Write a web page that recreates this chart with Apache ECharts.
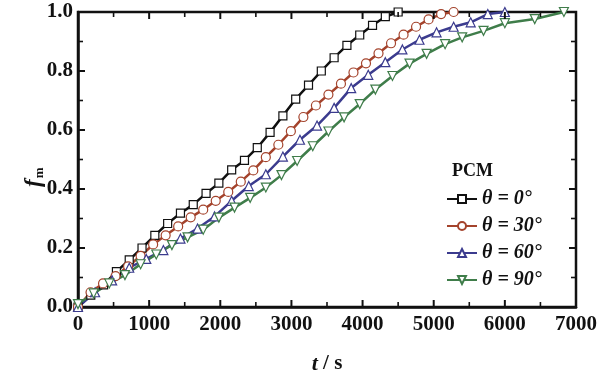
<!DOCTYPE html>
<html>
<head>
<meta charset="utf-8">
<script src="https://cdn.jsdelivr.net/npm/echarts@6/dist/echarts.min.js"></script>
<style>html,body{margin:0;padding:0;background:#fff}#c{width:600px;height:381px}</style>
</head>
<body>
<div id="c"></div>
<script>
var seriesNames = ['θ = 0°', 'θ = 30°', 'θ = 60°', 'θ = 90°'];
var t0 = [0,180,360,540,720,900,1080,1260,1440,1620,1800,1980,2160,2340,2520,2700,2880,3060,3240,3420,3600,3780,3960,4140,4320,4500];
var f0 = [0,0.04,0.075,0.12,0.16,0.20,0.243,0.283,0.318,0.347,0.385,0.42,0.465,0.497,0.54,0.592,0.648,0.705,0.752,0.8,0.845,0.887,0.922,0.955,0.984,1.0];
var t30 = [0,176,352,528,704,880,1056,1232,1408,1584,1760,1936,2112,2288,2464,2640,2816,2992,3168,3344,3520,3696,3872,4048,4224,4400,4576,4752,4928,5104,5280];
var f30 = [0,0.05,0.08,0.105,0.138,0.173,0.212,0.243,0.273,0.304,0.33,0.36,0.39,0.425,0.463,0.508,0.55,0.596,0.644,0.683,0.72,0.757,0.795,0.826,0.86,0.894,0.923,0.95,0.975,0.993,1.0];
var t60 = [0,240,480,720,960,1200,1440,1680,1920,2160,2400,2640,2880,3120,3360,3600,3840,4080,4320,4560,4800,5040,5280,5520,5760,6000];
var f60 = [0,0.05,0.09,0.133,0.163,0.193,0.232,0.266,0.307,0.36,0.41,0.45,0.51,0.567,0.615,0.675,0.742,0.787,0.83,0.873,0.906,0.931,0.95,0.965,0.993,1.0];
var t90 = [0,220,440,660,880,1100,1320,1540,1760,1980,2200,2420,2640,2860,3080,3300,3520,3740,3960,4180,4420,4660,4900,5160,5400,5700,6000,6420,6830];
var f90 = [0.01,0.046,0.08,0.108,0.145,0.178,0.21,0.236,0.262,0.303,0.337,0.37,0.405,0.447,0.495,0.545,0.595,0.643,0.688,0.737,0.783,0.825,0.858,0.891,0.914,0.936,0.962,0.976,1.0];
var xMajorTicks = [1000,2000,3000,4000,5000,6000];
var xMinorTicks = [500,1500,2500,3500,4500,5500,6500];
var yMajorTicks = [0.2,0.4,0.6,0.8];
var yMinorTicks = [0.1,0.3,0.5,0.7,0.9];
var colors = ['#111111', '#a4432c', '#3b3b8e', '#3f7d4a'];
var symbols = ['rect', 'circle', 'triangle', 'path://M0,0 L10,0 L5,9 Z'];
var ts = [t0, t30, t60, t90];
var fs = [f0, f30, f60, f90];

var FONT = 'Liberation Serif';
var chart = echarts.init(document.getElementById('c'));

var series = seriesNames.map(function (name, k) {
  return {
    name: name,
    type: 'line',
    xAxisIndex: 0, yAxisIndex: 0,
    data: ts[k].map(function (x, i) { return [x, fs[k][i]]; }),
    symbol: symbols[k],
    symbolSize: k === 0 ? 8 : 9,
    showAllSymbol: true,
    lineStyle: {color: colors[k], width: 2.5},
    itemStyle: {color: '#fff', borderColor: colors[k], borderWidth: 1.2}
  };
});

// tick marks as small filled rects, positioned through the axes' own scales
var xTickData = xMajorTicks.map(function (v) { return [v, 1]; })
  .concat(xMinorTicks.map(function (v) { return [v, 0]; }));
var yTickData = yMajorTicks.map(function (v) { return [v, 1]; })
  .concat(yMinorTicks.map(function (v) { return [v, 0]; }));
series.push({
  type: 'custom', name: 'xticks', silent: true, clip: false, z: 20,
  encode: {x: 0},
  data: xTickData,
  renderItem: function (params, api) {
    var v = api.value(0), major = api.value(1) === 1;
    var len = major ? 7 : 5, w = major ? 2 : 1.6;
    var b = api.coord([v, 0]), t = api.coord([v, 1]);
    return {type: 'group', children: [
      {type: 'rect', shape: {x: b[0] - w / 2, y: b[1] - len, width: w, height: len}, style: {fill: '#111'}},
      {type: 'rect', shape: {x: t[0] - w / 2, y: t[1], width: w, height: len}, style: {fill: '#111'}}
    ]};
  }
});
series.push({
  type: 'custom', name: 'yticks', silent: true, clip: false, z: 20,
  encode: {y: 0},
  data: yTickData,
  renderItem: function (params, api) {
    var v = api.value(0), major = api.value(1) === 1;
    var len = major ? 7 : 5, w = major ? 2 : 1.6;
    var l = api.coord([0, v]), r = api.coord([7000, v]);
    return {type: 'group', children: [
      {type: 'rect', shape: {x: l[0], y: l[1] - w / 2, width: len, height: w}, style: {fill: '#111'}},
      {type: 'rect', shape: {x: r[0] - len, y: r[1] - w / 2, width: len, height: w}, style: {fill: '#111'}}
    ]};
  }
});

var labelStyle = {fontFamily: FONT, fontWeight: 'bold', fontSize: 21, color: '#111'};

var option = {
  animation: false,
  grid: {left: 78, right: 23, top: 12, bottom: 74,
         show: true, borderColor: '#111', borderWidth: 2.5, backgroundColor: 'rgba(0,0,0,0)'},
  xAxis: {
    type: 'value', min: 0, max: 7000, interval: 1000,
    axisLine: {show: true, lineStyle: {color: '#111', width: 2.5}},
    axisTick: {show: false},
    splitLine: {show: false},
    axisLabel: Object.assign({margin: 7, formatter: function (v) { return String(v); }}, labelStyle)
  },
  yAxis: {
    type: 'value', min: 0, max: 1, interval: 0.2,
    axisLine: {show: true, lineStyle: {color: '#111', width: 2.5}},
    axisTick: {show: false},
    splitLine: {show: false},
    axisLabel: Object.assign({margin: 5, formatter: function (v) { return v.toFixed(1); }}, labelStyle)
  },
  legend: {
    data: seriesNames,
    orient: 'vertical',
    left: 441, top: 184,
    itemWidth: 30, itemHeight: 10, itemGap: 7,
    textStyle: {fontFamily: FONT, fontWeight: 'bold', fontStyle: 'italic', fontSize: 20, color: '#111'}
  },
  graphic: [
    {type: 'text', left: 452, top: 162,
     style: {text: 'PCM', fontFamily: FONT, fontWeight: 'bold', fontSize: 18, fill: '#111'}},
    {type: 'text', x: 327, y: 353,
     style: {text: '{i|t} / s', align: 'center', verticalAlign: 'top',
       fontFamily: FONT, fontWeight: 'bold', fontSize: 21, fill: '#111',
       rich: {i: {fontFamily: FONT, fontWeight: 'bold', fontStyle: 'italic', fontSize: 22, fill: '#111'}}}},
    {type: 'text', x: 22, y: 187, rotation: Math.PI / 2,
     style: {text: '{f|f}{m|m}', fontFamily: FONT,
       rich: {f: {fontFamily: FONT, fontWeight: 'bold', fontStyle: 'italic', fontSize: 23, fill: '#111'},
              m: {fontFamily: FONT, fontWeight: 'bold', fontSize: 13, fill: '#111', padding: [11, 0, 0, 1]}}}}
  ],
  series: series
};
chart.setOption(option);
</script>
</body>
</html>
